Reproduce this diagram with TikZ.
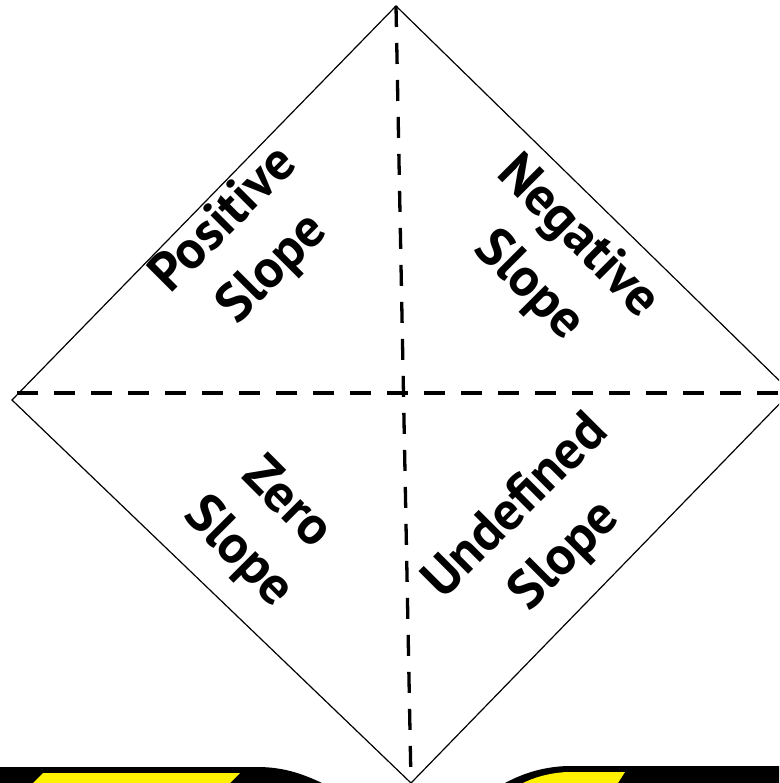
\documentclass[tikz,border=0pt]{standalone}
\usepackage{fontspec}
\setmainfont{PT Sans}
\usetikzlibrary{calc}

\tikzset{
  edgeline/.style={line width=1.2pt},
  fold/.style={line width=3.3pt, dash pattern=on 21pt off 16pt},
  slopetext/.style={align=center, inner sep=0pt,
    font=\fontsize{54}{69}\selectfont\bfseries},
}

\begin{document}
\begin{tikzpicture}[x=1pt,y=-1pt]
\useasboundingbox (0,0) rectangle (779,783);
\clip (0,0) rectangle (779,783);

\coordinate (top)    at (396,6);
\coordinate (left)   at (12,400);
\coordinate (bottom) at (411,783);
\coordinate (right)  at (791,392);
\coordinate (foldL)  at (17,393);
\coordinate (foldR)  at (779,393);

% strips at the bottom
\fill (0,767) -- (258,767) .. controls (285,767) and (305,775) .. (322,783) -- (0,783) -- cycle;
\fill[yellow] (43,773) -- (240,773) -- (230,783) -- (33,783) -- cycle;
\fill (779,766) -- (567,766) .. controls (540,767) and (520,775) .. (505,783) -- (779,783) -- cycle;
\fill[yellow] (625,772) -- (567,772) .. controls (548,773) and (533,778) .. (523,783) -- (618,783) -- cycle;

\draw[edgeline] (top) -- (right) -- (bottom) -- (left) -- cycle;
\draw[fold] (top) -- (bottom);
\draw[fold] (foldL) -- (foldR);

\node[slopetext, rotate=45]  (pos)   at (249,245) {Positive\\Slope};
\node[slopetext, rotate=-45] (neg)   at (553,262) {Negative\\Slope};
\node[slopetext, rotate=-45] (zero)  at (262,529) {Zero\\Slope};
\node[slopetext, rotate=45]  (undef) at (541,532) {Undefined\\Slope};
\end{tikzpicture}
\end{document}
